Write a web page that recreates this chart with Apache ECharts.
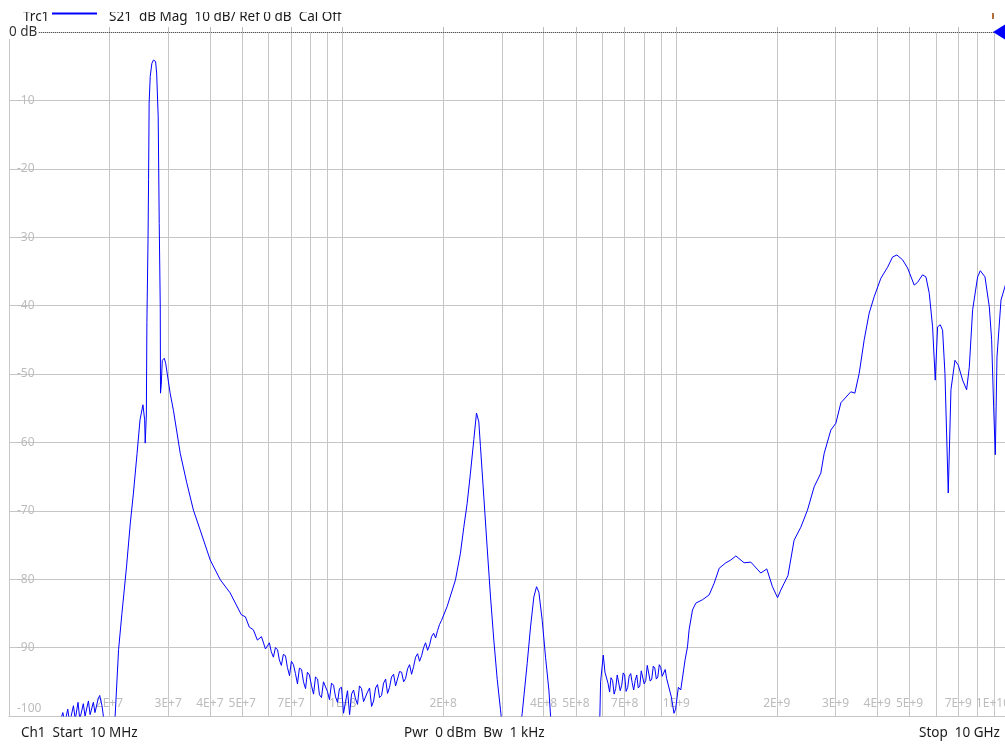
<!DOCTYPE html>
<html>
<head>
<meta charset="utf-8">
<title>Trc1 S21 dB Mag</title>
<script src="https://cdn.jsdelivr.net/npm/echarts@6.0.0/dist/echarts.min.js"></script>
<style>
  html, body { margin: 0; padding: 0; background: #fff; }
  #chart { width: 1005px; height: 745px; }
</style>
</head>
<body>
<div id="chart"></div>
<script>
// trace: frequency in MHz, S21 in dB
// (points under -100 dB are below the screen and get clipped)
var freqMHz = [
    10, 14.0, 14.2, 14.5, 14.7, 15.0, 15.2, 15.6, 15.8, 16.1,
    16.3, 16.7, 16.9, 17.3, 17.5, 17.9, 18.1, 18.5, 18.7, 19.0,
    19.3, 20.1, 20.8, 21.3, 21.8, 22.5, 23.1, 23.6, 24.2, 24.7,
    25.2, 25.5, 25.6, 25.8, 25.9, 26.1, 26.2, 26.3, 26.5, 26.8,
    27.1, 27.5, 27.7, 28.0, 28.2, 28.4, 28.45, 28.6, 28.8, 29.2,
    29.5, 30.4, 31.1, 32.6, 34.1, 35.7, 37.4, 40.1, 43.0, 46.0,
    49.7, 51.1, 52.5, 54.0, 55.5, 57.1, 58.7,
    60.3, 61.1, 62.0, 62.9, 63.8, 64.6, 65.5, 66.4, 67.4, 68.3,
    69.3, 70.2, 71.2, 72.2, 73.2, 74.2, 75.3, 76.3, 77.4, 78.4,
    79.5, 80.6, 81.8, 82.9, 84.1, 85.2, 86.4, 87.6, 88.8, 90.0,
    91.3, 92.6, 93.9, 95.2, 96.5, 97.8, 99.2, 100.6, 102.0, 103.4,
    104.9, 106.3, 107.8, 109.3, 110.8, 112.3, 113.9, 115.5, 117.1, 118.7,
    120.4, 122.1, 123.8, 125.5, 127.2, 129.0, 130.8, 132.6, 134.5, 136.3,
    138.2, 140.1, 142.1, 144.1, 146.1, 148.1, 150.2, 152.3, 154.4, 156.5,
    158.7, 160.9, 163.1, 165.4, 167.7, 170.0, 172.4, 174.8, 177.2, 179.7,
    182.2, 184.7, 187.3, 189.9, 192.5, 195.2, 197.9,
    205.6, 217.8, 225.4, 230.7, 236.1, 241.5, 247.2, 251.8, 255.9,
    258.8, 264.9, 271, 277.4, 283.8, 290.6, 297.2, 307.7, 329.7, 345.2,
    357.3, 365.6, 374.1, 381.1, 387.3, 396.3, 405.5, 415, 419.8, 434.6,
    573, 590, 593, 604, 611,
    618, 624, 631, 637, 644, 651, 658, 665, 672, 679,
    686, 693, 700, 707, 715, 722, 730, 737, 745, 753,
    761, 769, 777, 785, 793, 801, 810, 818, 827, 835,
    844, 853, 862, 871, 880, 889, 898, 907, 917, 926,
    935, 966, 984, 995, 1014, 1031,
    1062, 1080, 1092, 1118, 1144, 1198, 1254, 1298, 1344, 1407,
    1456, 1508, 1596, 1672, 1791, 1867, 1941, 2011, 2056, 2104,
    2160, 2254, 2361, 2472, 2588, 2710, 2774, 2904, 3007, 3113,
    3334, 3428, 3532, 3656, 3784, 3917, 4102, 4295, 4446, 4581,
    4764, 4932, 5164, 5284, 5470, 5598, 5728, 5861, 5970, 6067,
    6180, 6281, 6383, 6531, 6653, 6839, 6998, 7211, 7413, 7551,
    7727, 7998, 8147, 8414, 8670, 8810, 8933, 9036, 9141, 9397,
    9728, 10000
];
var s21dB = [
    -108, -106, -101, -99.5, -101, -99, -101, -98.5, -100.5, -98,
    -100.5, -98.2, -100, -97.8, -99.8, -98, -99.5, -97.5, -97, -98.5,
    -101, -104, -100, -90.3, -85, -78.2, -71.8, -67.4, -61.6, -56.7,
    -54.5, -56.7, -60.1, -56, -42.5, -30.4, -21.6, -10.4, -6.5, -4.6,
    -4.1, -4.3, -6.0, -12.4, -28, -40.2, -52.8, -51.5, -48, -47.7,
    -48.5, -52.8, -55.3, -61.6, -65.9, -69.9, -72.8, -77.2, -80.1, -82,
    -85.2, -85.5, -87.0, -87.4, -88.9, -88.4, -90.2,
    -89.3, -90.6, -91.4, -90.0, -90.3, -91.8, -92.6, -91.0, -91.2, -92.9,
    -94.1, -92.0, -92.5, -93.8, -95.3, -93.0, -93.2, -95.0, -96.0, -93.6,
    -94.0, -95.5, -96.8, -94.3, -94.6, -96.9, -97.3, -95.0, -95.1, -96.4,
    -97.6, -95.2, -95.5, -97.2, -98.0, -96.0, -95.8, -99.6, -97.9, -96.3,
    -99.8, -96.8, -96.2, -97.5, -98.3, -95.6, -96.0, -97.9, -98.1, -96.5,
    -95.9, -98.6, -97.8, -95.9, -95.4, -97.3, -97.0, -95.2, -94.6, -96.7,
    -95.8, -94.3, -93.9, -95.6, -95.4, -93.5, -93.6, -95.0, -94.5, -93.1,
    -92.5, -93.9, -92.8, -91.4, -90.9, -92.0, -91.2, -90.0, -89.3, -90.4,
    -89.6, -88.4, -87.9, -88.6, -87.5, -86.6, -86.0,
    -84, -80.1, -76.2, -72.4, -68.9, -64.5, -59.6, -55.7, -57,
    -60.6, -68, -75.3, -82.6, -88.9, -94.7, -99.1, -106, -108, -99.6,
    -92.3, -87, -82.6, -81.1, -81.9, -86, -91.4, -96.2, -100, -106,
    -106, -100, -95, -91.1, -93.6,
    -93.5, -95.2, -96.5, -94.4, -94.8, -96.8, -96.0, -94.0, -94.2, -96.3,
    -95.5, -93.7, -94.0, -96.4, -95.8, -94.2, -93.8, -95.1, -96.2, -94.8,
    -94.0, -95.9, -95.6, -93.4, -93.2, -95.3, -94.8, -92.6, -92.8, -94.9,
    -94.6, -92.7, -93.0, -94.6, -94.3, -92.5, -92.9, -94.2, -94.0, -93.2,
    -94.5, -97.2, -99.6, -99, -95.8, -96.2,
    -91.8, -89.9, -87.4, -84.5, -83.5, -83, -82.3, -80.6, -78.4, -77.6,
    -77.2, -76.6, -77.6, -77.5, -79.1, -78.5, -81.1, -82.7, -81.6, -80.6,
    -79.5, -74.3, -72.4, -69.9, -66.5, -64.5, -61.6, -58.2, -57.2, -54.2,
    -52.6, -52.8, -49.9, -45, -41.1, -38.7, -36, -34.4, -32.9, -32.6,
    -33.3, -34.5, -37, -36.6, -35.5, -35.8, -38.2, -43.1, -50.9, -43.1,
    -42.8, -43.6, -49.9, -67.4, -52.3, -48, -48.7, -50.9, -52.3, -49,
    -40.6, -35.8, -34.9, -35.8, -40.2, -45, -54.8, -61.8, -47.5, -39.2,
    -36.7, -36
];
// frequency labels along the bottom (the screen shows no 3E+8 label)
var tickLabels = ['2E+7', '3E+7', '4E+7', '5E+7', '7E+7', '1E+8', '2E+8', '4E+8', '5E+8',
    '7E+8', '1E+9', '2E+9', '3E+9', '4E+9', '5E+9', '7E+9', '1E+10'];
var decades = [1e7, 1e8, 1e9];
var multiples = [2, 3, 4, 5, 6, 7, 8, 9, 10];

var gridValues = [];
decades.forEach(function (d) {
    multiples.forEach(function (m) { gridValues.push(d * m); });
});
var labelValues = tickLabels.map(Number);

function labelFor(v) {
    var best = '', bd = 1;
    tickLabels.forEach(function (t) {
        var d = Math.abs(Math.log10(Number(t) / v));
        if (d < bd) { bd = d; best = t; }
    });
    return bd < 0.01 ? best : '';
}

var trace = freqMHz.map(function (f, i) { return [f * 1e6, s21dB[i]]; });

var gridColor = '#c6c6c6';
var labelColor = '#bcbcbc';
var font = '"Noto Sans", "Open Sans", sans-serif';
var textFont = '13.5px ' + font;

var myChart = echarts.init(document.getElementById('chart'), null, {renderer: 'canvas'});
myChart.setOption({
    animation: false,
    backgroundColor: '#ffffff',
    grid: {left: 9, top: 32, width: 1001, height: 684, outerBoundsMode: 'none', containLabel: false},
    xAxis: [
        {   // the grid lines, one at every 1..9 step of each decade
            type: 'log', logBase: 10, min: 1e7, max: 1e10, position: 'bottom',
            axisLine: {show: true, onZero: false, lineStyle: {color: gridColor, width: 1}},
            axisTick: {show: false, customValues: gridValues},
            axisLabel: {show: false},
            splitLine: {show: true, lineStyle: {color: gridColor, width: 1}}
        },
        {   // labels and short ticks, drawn inside the screen
            type: 'log', logBase: 10, min: 1e7, max: 1e10, position: 'bottom', offset: 0,
            axisLine: {show: false},
            axisTick: {show: true, inside: true, length: 5, customValues: labelValues,
                lineStyle: {color: labelColor}},
            axisLabel: {show: true, inside: true, margin: 6, customValues: labelValues,
                alignMaxLabel: 'right',
                color: labelColor, fontSize: 12, fontFamily: font, formatter: labelFor},
            splitLine: {show: false}
        }
    ],
    yAxis: {
        type: 'value', min: -100, max: 0, interval: 10,
        axisLine: {show: true, lineStyle: {color: gridColor}},
        axisTick: {show: false},
        axisLabel: {
            inside: true, margin: 8, color: labelColor, fontSize: 12, fontFamily: font,
            formatter: function (v) {
                if (v === 0) return '';
                if (v === -100) return '{low|-100}';
                return String(v);
            },
            rich: {low: {color: labelColor, fontSize: 12, fontFamily: font, padding: [0, 0, 14, 0]}}
        },
        splitLine: {show: true, lineStyle: {color: gridColor, width: 1}}
    },
    series: [{
        name: 'Trc1',
        type: 'line',
        xAxisIndex: 0,
        data: trace,
        showSymbol: false,
        clip: true,
        lineStyle: {color: '#0000ff', width: 1},
        markLine: {   // reference level line at 0 dB
            silent: true, symbol: 'none', animation: false,
            label: {show: false},
            lineStyle: {type: 'dotted', color: '#555555', width: 1},
            data: [{yAxis: 0}]
        }
    }],
    graphic: [
        {type: 'text', left: 23, top: 10, style: {text: 'Trc1', fill: '#1a1a1a', font: textFont}},
        {type: 'line', shape: {x1: 52, y1: 13.5, x2: 97, y2: 13.5}, style: {stroke: '#0000ff', lineWidth: 2}},
        {type: 'text', left: 109, top: 10,
            style: {text: 'S21  dB Mag  10 dB/ Ref 0 dB  Cal Off', fill: '#1a1a1a', font: textFont}},
        // the top of the header line is hidden on the screen
        {type: 'rect', shape: {x: 0, y: 0, width: 420, height: 12}, style: {fill: '#ffffff'}, z: 100},
        {type: 'rect', shape: {x: 992, y: 13, width: 2, height: 6}, style: {fill: '#b0703a'}},
        {type: 'text', left: 9, top: 25, z: 60,
            style: {text: '0 dB', fill: '#333333', font: textFont, backgroundColor: '#ffffff', padding: [0, 1, 0, 0]}},
        {type: 'polygon', shape: {points: [[993, 32], [1006, 24], [1006, 40]]}, style: {fill: '#0000ff'}, z: 50},
        {type: 'text', left: 21, top: 726, style: {text: 'Ch1  Start  10 MHz', fill: '#1a1a1a', font: textFont}},
        {type: 'text', left: 404, top: 726, style: {text: 'Pwr  0 dBm  Bw  1 kHz', fill: '#1a1a1a', font: textFont}},
        {type: 'text', left: 919, top: 726, style: {text: 'Stop  10 GHz', fill: '#1a1a1a', font: textFont}}
    ]
});
</script>
</body>
</html>
